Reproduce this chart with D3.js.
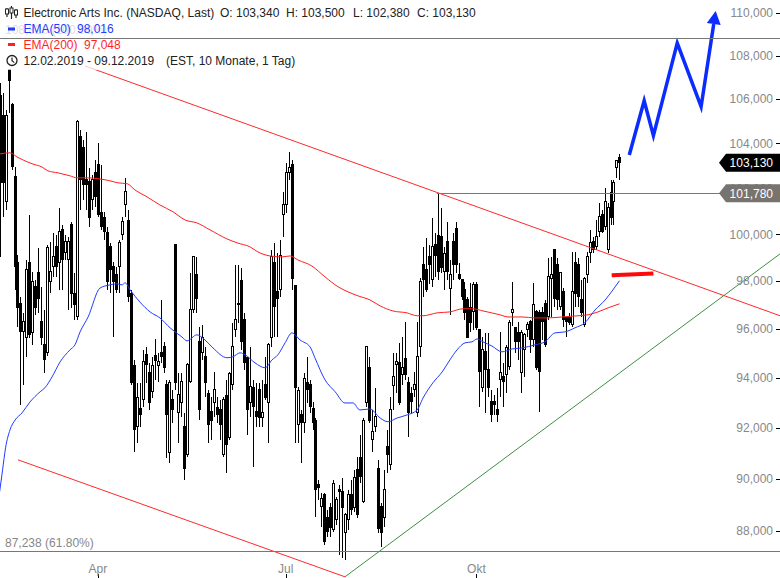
<!DOCTYPE html>
<html><head><meta charset="utf-8">
<script src="https://cdn.jsdelivr.net/npm/d3@7"></script>
<style>body{margin:0;background:#fff;}svg{display:block;}text{font-family:"Liberation Sans",Arial,sans-serif;}</style>
</head><body><svg id="c" width="780" height="578"></svg>
<script>
// ---- data ----
const opens=[106.18,105.27,101.40,107.37,105.77,102.50,98.81,97.08,95.88,95.63,
98.81,95.84,97.76,98.35,96.30,95.35,95.02,97.97,98.60,99.46,
98.77,100.19,99.20,98.90,100.40,97.50,96.50,104.28,103.83,102.37,
102.28,101.49,102.68,103.03,100.93,100.71,100.06,99.46,98.60,98.26,
98.60,99.97,101.27,100.58,97.50,94.49,92.04,92.75,93.11,94.94,
94.20,93.44,94.90,94.49,95.02,95.26,93.72,91.01,93.11,99.54,
92.61,92.99,92.04,90.93,93.84,96.79,98.26,95.47,95.02,94.86,
93.35,92.63,92.99,92.79,92.71,90.93,93.27,91.60,93.72,95.96,
97.08,98.01,96.38,94.82,92.99,93.60,92.63,93.52,92.39,93.72,
92.99,95.67,98.77,97.55,97.63,100.84,101.27,102.68,103.03,97.80,
92.12,92.51,92.20,93.80,93.72,92.75,92.31,89.77,88.92,89.38,
88.50,88.88,88.04,88.42,89.57,89.50,87.93,88.42,89.38,88.88,
90.35,90.85,89.11,92.99,94.41,91.52,92.04,90.42,88.92,88.53,
91.25,90.54,93.68,94.53,94.61,94.12,94.78,93.80,93.39,93.52,
92.59,95.26,98.69,98.48,99.03,98.05,99.54,99.93,99.89,98.39,
99.67,97.71,99.67,100.23,98.26,98.05,97.63,97.21,96.88,96.71,
97.84,95.96,93.60,95.06,94.32,93.03,93.03,92.71,93.92,94.04,
94.12,94.45,96.67,96.05,95.84,94.20,95.14,95.96,96.30,95.55,
96.71,96.67,96.67,97.08,96.50,98.13,99.33,98.69,96.92,97.55,
96.46,96.46,96.17,98.81,98.69,97.21,96.17,98.26,99.20,99.67,
99.46,100.10,100.84,100.32,99.33,101.80,101.40,102.90,103.34];
const highs=[106.73,106.27,105.50,107.37,105.82,102.94,99.11,97.34,96.67,98.90,
100.84,98.39,98.05,99.41,97.76,96.79,99.54,99.67,100.06,99.97,
101.14,100.40,99.97,99.89,100.53,98.35,105.05,104.59,104.15,104.50,
102.90,102.59,103.25,104.01,103.03,100.97,100.32,99.63,98.81,98.60,
99.76,100.75,102.46,101.05,97.63,94.73,93.80,93.80,95.14,95.26,
94.61,94.86,95.59,95.02,97.21,95.47,93.92,93.92,93.52,99.54,
94.20,94.20,92.59,94.61,98.35,99.07,99.03,96.09,96.17,95.26,
93.52,93.23,94.24,93.23,93.11,93.23,93.92,94.24,96.26,98.69,
98.69,98.56,96.67,94.86,95.26,93.92,93.80,93.80,93.92,94.86,
95.43,99.33,99.63,99.20,99.76,101.84,103.12,103.61,103.25,97.80,
93.64,92.71,94.20,94.86,93.92,93.03,92.39,89.96,89.46,89.46,
88.81,89.08,89.96,89.30,89.77,90.04,88.69,89.57,89.96,90.35,
90.85,91.72,92.39,95.26,94.86,92.71,93.60,90.74,89.08,90.35,
91.92,93.23,95.02,95.02,95.43,95.67,96.30,94.04,93.64,94.24,
96.30,98.13,99.46,99.84,99.54,100.71,100.06,101.78,101.14,99.46,
100.53,98.90,100.06,100.53,98.77,98.05,97.97,97.34,97.93,97.97,
97.97,95.96,95.67,95.84,95.84,93.52,93.31,93.60,95.88,94.61,
95.35,96.38,97.97,96.09,96.30,95.96,95.84,96.30,96.38,97.93,
96.79,96.79,96.92,97.21,98.98,99.03,99.33,98.98,98.39,97.71,
96.50,96.67,99.24,99.24,98.98,98.05,98.18,99.24,100.19,99.89,
100.62,101.36,101.05,102.02,101.36,102.37,102.37,103.25,103.50];
const lows=[99.03,100.75,101.05,105.36,102.81,97.63,96.09,92.91,93.72,94.86,
95.63,95.35,96.59,96.67,95.35,94.20,94.90,97.50,98.18,98.18,
97.63,97.63,98.90,96.79,96.88,96.38,96.38,101.05,101.49,101.05,
100.32,101.05,101.18,100.75,100.19,99.76,97.63,97.50,95.67,97.50,
97.50,99.76,100.75,97.12,93.72,91.05,91.41,92.04,92.83,93.80,
92.71,93.19,93.92,93.84,94.61,94.20,90.81,90.62,92.20,93.52,
91.41,92.43,89.96,90.85,93.80,96.67,96.67,92.31,94.73,93.23,
91.41,91.52,92.43,92.20,91.52,90.85,90.23,91.52,93.52,95.67,
96.26,95.14,94.32,91.72,92.43,90.46,92.04,92.04,92.04,93.11,
91.41,95.26,95.67,95.67,97.34,99.89,100.93,102.37,97.63,91.41,
91.41,90.62,91.80,92.99,92.59,91.92,88.53,89.19,88.15,87.48,
87.78,87.78,87.97,88.23,87.10,86.99,86.91,88.04,88.61,88.73,
88.50,89.84,89.08,92.83,92.20,91.05,91.84,87.93,87.41,88.15,
90.23,90.35,92.71,93.39,92.91,93.72,93.92,91.64,92.59,93.23,
92.43,94.86,97.34,97.55,97.89,97.76,98.18,98.05,98.35,97.63,
98.05,96.59,98.05,98.35,98.05,97.21,96.38,95.67,95.88,95.96,
95.96,92.83,93.44,92.59,93.23,92.24,92.51,92.24,93.23,92.83,
93.39,94.32,96.13,95.02,94.73,93.39,94.04,95.67,95.02,95.26,
94.32,92.63,95.55,95.26,96.38,96.50,96.92,96.79,96.79,96.09,
95.67,96.17,96.09,96.92,96.92,96.50,96.09,97.93,98.77,99.20,
99.33,99.89,100.06,100.19,99.20,100.40,100.40,102.46,102.38];
const closes=[102.24,102.24,105.27,106.87,102.98,98.60,96.88,95.88,96.30,98.48,
95.76,97.97,96.88,97.29,95.67,94.73,99.41,98.39,99.03,98.60,
100.10,98.90,99.67,99.67,97.50,97.00,104.96,102.37,102.15,102.15,
100.71,102.37,101.62,100.84,100.32,100.10,97.97,98.48,97.97,97.63,
99.63,100.53,101.84,97.34,93.80,91.92,93.19,92.51,94.65,94.53,
92.99,94.49,94.69,94.65,94.86,94.41,92.51,93.80,92.71,93.80,
93.31,93.84,90.42,94.53,96.79,99.03,97.29,92.71,95.67,93.80,
92.12,92.31,93.52,92.51,92.12,93.11,91.33,94.16,95.26,96.38,
97.00,95.47,94.61,92.71,93.64,92.83,92.43,92.39,92.59,93.19,
95.35,99.03,96.92,97.29,99.11,101.27,102.68,102.90,98.13,93.60,
93.48,92.20,93.96,93.52,92.83,92.20,89.57,89.65,89.23,87.60,
87.97,88.15,89.81,89.19,89.50,88.88,88.61,89.38,88.81,90.04,
88.61,90.08,92.31,95.26,92.31,91.84,92.43,88.11,87.93,89.57,
90.93,92.71,94.04,94.65,92.99,94.41,94.12,92.59,93.03,93.72,
94.86,97.97,98.05,97.63,98.69,99.46,99.11,98.39,98.56,99.16,
98.39,98.26,98.69,98.69,98.13,97.34,96.67,95.67,96.26,97.84,
96.05,94.24,95.14,94.32,93.60,92.51,92.91,92.51,94.20,93.84,
95.22,96.26,96.79,95.47,95.47,95.84,95.76,96.17,95.55,97.00,
94.41,94.24,96.30,95.35,98.18,98.26,97.29,97.21,98.35,96.38,
96.30,96.26,97.55,97.50,97.34,96.67,98.13,99.03,99.63,99.33,
99.89,100.75,100.10,101.40,101.18,100.71,102.24,103.25,103.13];

const ema50Idx=[0,1,2,3.5,5.2,7.5,10.2,13.6,15.2,17.6,20.3,23.6,25.3,27,29.7,33.7,37,39.4,41.1,42.1,43.8,47.1,50.5,53.8,57.2,61.2,62.9,66.2,68.9,71.6,76.3,78.3,80.7,82.4,85.7,89.1,91.4,93.4,95.8,98.1,100.8,104.2,105.8,109.2,112.6,115.9,118.6,120.9,124.3,127.7,130.3,133.4,136.7,140.1,142.1,145.4,148.5,151.1,153.5,156.2,158.5,160.2,162.2,165.2,168.6,172,175.3,179.7,183,186.4,189.7,193.1,196.4,199.8,203.2,205.8,208];
const ema50Val=[89.50,90.35,91.21,91.92,92.31,92.59,93.03,93.44,93.60,94.04,94.65,95.14,95.35,95.88,96.50,97.71,97.84,97.89,97.84,97.93,97.63,97.12,96.71,96.46,96.05,95.67,95.51,95.76,95.55,95.22,94.82,94.86,95.02,94.94,94.61,94.41,94.73,94.94,95.43,95.84,95.55,95.26,94.82,93.92,93.44,92.99,92.99,92.71,92.75,92.39,92.24,92.39,92.51,92.71,93.19,93.80,94.24,94.73,95.14,95.43,95.47,95.59,95.47,95.30,95.06,95.18,95.22,95.35,95.47,95.84,95.88,96.05,96.26,96.79,97.21,97.63,98.016];
const ema200Idx=[0,3.5,5.8,7.9,11.2,14.2,16.2,19.6,23.6,26,29.3,33.7,37,39.7,42.8,45.4,49.5,53.8,58.2,62.2,66.2,70.6,76.3,79.7,84,86.7,90.7,94.8,97.5,100.1,104.8,109.2,113.6,116.9,120.3,124.3,127.7,132,136.7,140.1,142.1,146.8,151.1,155.5,158.9,162.2,167.9,170.6,175.3,179.7,184,188.7,194.1,197.5,200.8,204.2,208];
const ema200Val=[103.52,103.57,103.39,103.25,103.07,102.94,102.77,102.68,102.55,102.46,102.46,102.41,102.33,102.24,102.20,101.93,101.62,101.27,100.97,100.62,100.49,100.19,99.80,99.63,99.46,99.24,99.07,99.03,99.07,98.90,98.64,98.18,97.76,97.55,97.38,97.21,96.96,96.75,96.67,96.55,96.55,96.67,96.71,96.84,96.84,96.75,96.59,96.50,96.50,96.46,96.46,96.50,96.55,96.59,96.71,96.88,97.048];

const yTicks=[88,90,92,94,96,98,100,102,104,106,108,110];
const xTickIdx=[33,96,160];
const xTickLabels=["Apr","Jul","Okt"];

// drawings: [index, price]
const channelUpper=[[28.66,107.52],[261.9,96.55]];
const channelLower=[[6.17,90.74],[115.9,86.28]];
const supportLine=[[115.9,86.28],[261.9,99.16]];
const fibTop=108.82, fibLow=87.238, resistance=101.78, resistanceStart=146.7;
const targetSeg=[[205.4,98.25],[219.4,98.32]];
const projIdx=[211.3,216.3,219.4,227.4,235.4,240.3];
const projVal=[103.47,105.92,104.34,108.58,105.65,110.09];
const lastClose=103.13;

const legendTitle="Electronic Arts Inc. (NASDAQ, Last)";
const ohlcLabels=["O: 103,340","H: 103,500","L: 102,380","C: 103,130"];

// ---- chart ----
const svg=d3.select("#c");
const x=d3.scaleLinear().domain([0,262]).range([-0.4,-0.4+2.98*262]);
const y=d3.scaleLog().domain([88,110]).range([531,13]);
const loc=d3.formatLocale({decimal:",",thousands:".",grouping:[3],currency:["",""]});
const f3=loc.format(".3f");
const f2=loc.format(".2f");

// fib label (behind legend)
svg.append("text").attr("x",5).attr("y",y(fibTop)-4).attr("font-size",12).attr("fill","#888").text(f3(fibTop)+" (100.00%)");
svg.append("text").attr("x",5).attr("y",y(fibLow)-4).attr("font-size",12).attr("fill","#888").text(f3(fibLow)+" (61.80%)");

const seg=(pts,color,w)=>svg.append("line").attr("x1",x(pts[0][0])).attr("y1",y(pts[0][1])).attr("x2",x(pts[1][0])).attr("y2",y(pts[1][1])).attr("stroke",color).attr("stroke-width",w);

// candles
const data=opens.map((o,i)=>({i,o,h:Math.max(highs[i],o,closes[i]),l:Math.min(lows[i],o,closes[i]),c:closes[i]}));
const cg=svg.append("g").attr("shape-rendering","crispEdges");
data.forEach(d=>{
  const xc=Math.round(x(d.i));
  cg.append("line").attr("x1",xc+0.5).attr("x2",xc+0.5).attr("y1",y(d.h)).attr("y2",y(d.l)).attr("stroke","#000").attr("stroke-width",1);
  const top=y(Math.max(d.o,d.c)), bot=y(Math.min(d.o,d.c));
  cg.append("rect").attr("x",xc-0.5).attr("width",2).attr("y",top).attr("height",Math.max(bot-top,0.8))
    .attr("fill",d.c>=d.o?"#fff":"#000").attr("stroke","#000").attr("stroke-width",1);
});

// trend lines
seg(channelUpper,"#ff2a2a",1);
seg(channelLower,"#ff2a2a",1);
seg(supportLine,"#3f8f3f",1);

// EMAs
const line=d3.line().x(d=>x(d[0])).y(d=>y(d[1])).curve(d3.curveMonotoneX);
svg.append("path").datum(ema200Idx.map((v,i)=>[v,ema200Val[i]])).attr("d",line).attr("fill","none").attr("stroke","#ff1f1f").attr("stroke-width",1);
svg.append("path").datum(ema50Idx.map((v,i)=>[v,ema50Val[i]])).attr("d",line).attr("fill","none").attr("stroke","#1f3cff").attr("stroke-width",1);

// target segment
seg(targetSeg,"#ff0a0a",4);

// projection arrow
const pts=projIdx.map((v,i)=>[x(v),y(projVal[i])]);
const tip=pts[pts.length-1], prev=pts[pts.length-2];
const dx=tip[0]-prev[0], dy=tip[1]-prev[1], len=Math.hypot(dx,dy), ux=dx/len, uy=dy/len;
const base=[tip[0]-13*ux,tip[1]-13*uy];
const shaft=pts.slice(0,-1).concat([base]);
svg.append("path").attr("d",d3.line()(shaft)).attr("fill","none").attr("stroke","#0a2cff").attr("stroke-width",3.5).attr("stroke-linejoin","miter");
svg.append("path").attr("d",`M${tip[0]},${tip[1]}L${base[0]-7*uy},${base[1]+7*ux}L${base[0]+7*uy},${base[1]-7*ux}Z`).attr("fill","#0a2cff");

// legend background
svg.append("rect").attr("x",0).attr("y",0).attr("width",480).attr("height",70).attr("fill","#fff").attr("opacity",0.72);

// horizontal lines
svg.append("line").attr("x1",0).attr("x2",780).attr("y1",Math.round(y(fibTop))+0.5).attr("y2",Math.round(y(fibTop))+0.5).attr("stroke","#777");
svg.append("line").attr("x1",0).attr("x2",780).attr("y1",Math.round(y(fibLow))+0.5).attr("y2",Math.round(y(fibLow))+0.5).attr("stroke","#777");
svg.append("line").attr("x1",x(resistanceStart)).attr("x2",780).attr("y1",Math.round(y(resistance))+0.5).attr("y2",Math.round(y(resistance))+0.5).attr("stroke","#777");

// right axis
const ax=svg.append("g");
yTicks.forEach(t=>{
  const yy=Math.round(y(t))+0.5;
  ax.append("line").attr("x1",776).attr("x2",780).attr("y1",yy).attr("y2",yy).attr("stroke","#000");
  ax.append("text").attr("x",773).attr("y",y(t)+4.3).attr("text-anchor","end").attr("font-size",12).attr("fill","#888").text(f3(t));
});
// bottom axis
xTickIdx.forEach((t,k)=>{
  const xx=Math.round(x(t))+0.5;
  ax.append("line").attr("x1",xx).attr("x2",xx).attr("y1",574).attr("y2",578).attr("stroke","#000");
  ax.append("text").attr("x",x(t)).attr("y",572.5).attr("text-anchor","middle").attr("font-size",12).attr("fill","#888").text(xTickLabels[k]);
});

// price tags
function tag(v,fill){
  const yc=y(v),h=9;
  svg.append("path").attr("d",`M719,${yc}L726,${yc-h}L780,${yc-h}L780,${yc+h}L726,${yc+h}Z`).attr("fill",fill);
  svg.append("text").attr("x",773).attr("y",yc+4.3).attr("text-anchor","end").attr("font-size",12).attr("fill","#fff").text(f3(v));
}
tag(resistance,"#77736f");
tag(lastClose,"#000");

// legend
const lg=svg.append("g");
// candle icon
[[7,8,17,9,14],[11.5,6,19,8,13],[16,9,18,10,15]].forEach(a=>{
  lg.append("line").attr("x1",a[0]).attr("x2",a[0]).attr("y1",a[1]).attr("y2",a[2]).attr("stroke","#222").attr("stroke-width",1.2);
  lg.append("rect").attr("x",a[0]-1.5).attr("y",a[3]).attr("width",3).attr("height",a[4]-a[3]).attr("fill","#fff").attr("stroke","#222").attr("stroke-width",1);
});
lg.append("text").attr("x",23.5).attr("y",17.3).attr("font-size",12).attr("fill","#222").text(legendTitle);
[220,286,353,417].forEach((xx,k)=>lg.append("text").attr("x",xx).attr("y",17.3).attr("font-size",12).attr("fill","#222").text(ohlcLabels[k]));
lg.append("rect").attr("x",8).attr("y",27.5).attr("width",7).attr("height",3).attr("fill","#1f3cff");
lg.append("text").attr("x",23.5).attr("y",33).attr("font-size",12).attr("fill","#1f3cff").text("EMA(50)");
lg.append("text").attr("x",77).attr("y",33).attr("font-size",12).attr("fill","#1f3cff").text(f3(ema50Val[ema50Val.length-1]));
lg.append("rect").attr("x",8).attr("y",43).attr("width",7).attr("height",3).attr("fill","#ff1f1f");
lg.append("text").attr("x",23.5).attr("y",48.5).attr("font-size",12).attr("fill","#ff1f1f").text("EMA(200)");
lg.append("text").attr("x",84).attr("y",48.5).attr("font-size",12).attr("fill","#ff1f1f").text(f3(ema200Val[ema200Val.length-1]));
// clock
lg.append("circle").attr("cx",12).attr("cy",60.5).attr("r",5).attr("fill","none").attr("stroke","#222").attr("stroke-width",1.3);
lg.append("path").attr("d","M12,57.5V60.8L14.3,62.6").attr("fill","none").attr("stroke","#222").attr("stroke-width",1.2);
lg.append("text").attr("x",23.5).attr("y",65).attr("font-size",12).attr("fill","#222").text("12.02.2019 - 09.12.2019");
lg.append("text").attr("x",166).attr("y",65).attr("font-size",12).attr("fill","#222").text("(EST, 10 Monate, 1 Tag)");
</script></body></html>
